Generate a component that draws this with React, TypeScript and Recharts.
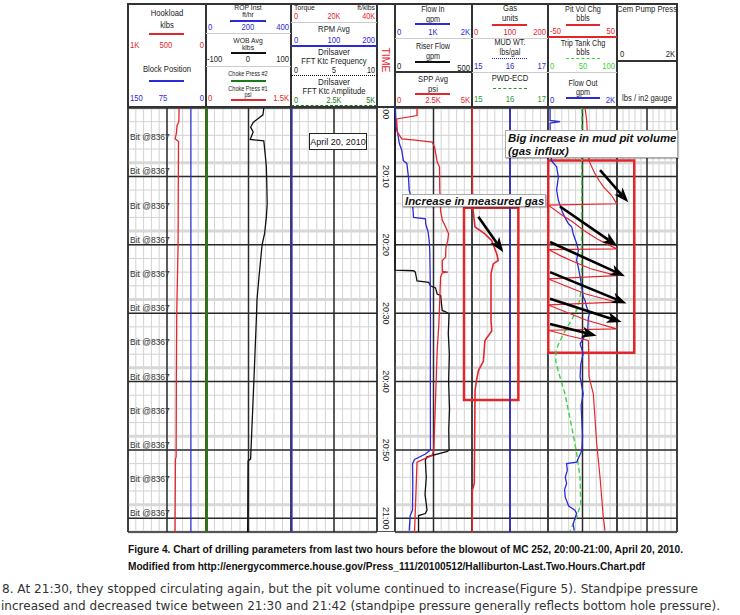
import React from 'react';
import { LineChart, Line, XAxis, YAxis, CartesianGrid, ReferenceLine, ReferenceArea } from 'recharts';

// time axis: minutes after 20:00
const minorMinutes = [2, 4, 6, 8, 10, 12, 14, 16, 18, 20, 22, 24, 26, 28, 30, 32, 34, 36, 38, 40, 42, 44, 46, 48, 50, 52, 54, 56, 58, 60];
const majorMinutes = [10, 20, 30, 40, 50, 60];
const bandMinutes = [8, 18, 28, 38, 48, 58];
const timeLabels = [0, 10, 20, 30, 40, 50, 60];
const bitMinutes = [5, 10, 15, 20, 25, 30, 35, 40, 45, 50, 55, 60];
const divisions = [1, 2, 3, 4, 5, 6, 7, 8, 9];
const midDivision = [5];

// track 1
const hookload = [
  { t: 0, v: 345 }, { t: 2, v: 348 }, { t: 2.6, v: 372 }, { t: 3.6, v: 378 }, { t: 4.5, v: 395 },
  { t: 4.9, v: 352 }, { t: 10, v: 355 }, { t: 20, v: 358 }, { t: 30, v: 375 }, { t: 40, v: 380 },
  { t: 51, v: 383 }, { t: 51.4, v: 392 }, { t: 62, v: 397 },
];
const blockPos = [{ t: 0, v: 29 }, { t: 62, v: 29 }];

// track 2
const chokePress = [{ t: 0, v: 10 }, { t: 62, v: 10 }];
const wob = [
  { t: 0, v: 36 }, { t: 1, v: 34 }, { t: 2.1, v: 11 }, { t: 2.8, v: 5 }, { t: 3.5, v: 11 }, { t: 4.6, v: 4 },
  { t: 4.8, v: 36 }, { t: 6.6, v: 39 }, { t: 8.6, v: 42 }, { t: 11, v: 43 }, { t: 14, v: 44 }, { t: 16, v: 42 },
  { t: 18.3, v: 38 }, { t: 20, v: 32 }, { t: 24.5, v: 25 }, { t: 28, v: 20 }, { t: 30, v: 19 }, { t: 39.4, v: 13 },
  { t: 51.3, v: 5 }, { t: 51.6, v: -1 }, { t: 62, v: -2 },
];

// track 3
const rpm = [{ t: 0, v: 2 }, { t: 62, v: 2 }];

// track 4
const flowIn = [
  { t: 0, v: 10 }, { t: 2.8, v: 30 }, { t: 3.7, v: 70 }, { t: 5.2, v: 113 }, { t: 6.2, v: 176 }, { t: 7.7, v: 218 },
  { t: 8.1, v: 308 }, { t: 10.1, v: 350 }, { t: 12, v: 368 }, { t: 13.5, v: 440 }, { t: 15, v: 470 }, { t: 16, v: 482 },
  { t: 16.2, v: 790 }, { t: 17, v: 800 }, { t: 18.1, v: 860 }, { t: 19.5, v: 890 }, { t: 20.8, v: 903 }, { t: 25, v: 915 },
  { t: 31, v: 921 }, { t: 40, v: 918 }, { t: 50, v: 921 }, { t: 50.6, v: 790 }, { t: 51.4, v: 508 }, { t: 52, v: 455 },
  { t: 55, v: 462 }, { t: 58.8, v: 455 }, { t: 59.6, v: 395 }, { t: 61.8, v: 368 },
];
const riserFlow = [
  { t: 0, v: 0 }, { t: 23.7, v: 0 }, { t: 23.8, v: 120 }, { t: 24, v: 132 }, { t: 25.3, v: 143 }, { t: 25.5, v: 219 },
  { t: 26, v: 230 }, { t: 26.3, v: 263 }, { t: 27.2, v: 274 }, { t: 27.4, v: 296 }, { t: 29.6, v: 307 }, { t: 29.8, v: 329 },
  { t: 30.1, v: 351 }, { t: 33, v: 346 }, { t: 36, v: 353 }, { t: 40, v: 348 }, { t: 44, v: 354 }, { t: 47, v: 349 },
  { t: 50, v: 351 }, { t: 50.2, v: 340 }, { t: 51, v: 208 }, { t: 51.5, v: 197 }, { t: 54, v: 203 }, { t: 56.5, v: 195 },
  { t: 58.8, v: 208 }, { t: 59.3, v: 197 }, { t: 59.6, v: 153 }, { t: 62, v: 153 },
];
const sppAvg = [
  { t: 0, v: 1430 }, { t: 1.1, v: 1430 }, { t: 1.6, v: 110 }, { t: 3.5, v: 150 }, { t: 4.5, v: 440 }, { t: 4.7, v: 1320 },
  { t: 5, v: 2410 }, { t: 5.7, v: 2570 }, { t: 7.9, v: 2740 }, { t: 8.6, v: 2890 }, { t: 12, v: 2910 }, { t: 15, v: 2960 },
  { t: 16.4, v: 3070 }, { t: 17.4, v: 3290 }, { t: 18.4, v: 3480 }, { t: 19.4, v: 3420 }, { t: 20.5, v: 3300 },
  { t: 21.8, v: 3290 }, { t: 22.3, v: 3070 }, { t: 23.9, v: 3080 }, { t: 24, v: 3430 }, { t: 24.1, v: 3080 },
  { t: 24.7, v: 2960 }, { t: 27.7, v: 2910 }, { t: 31.5, v: 2850 }, { t: 35.4, v: 2740 }, { t: 50, v: 2520 },
  { t: 50.8, v: 2400 }, { t: 51.8, v: 1430 }, { t: 58.8, v: 1320 }, { t: 62, v: 1270 },
];

// track 5
const gasUnits = [
  { t: 0, v: 0.5 }, { t: 12, v: 1 }, { t: 15, v: 3 }, { t: 17.4, v: 8 }, { t: 18.4, v: 34 }, { t: 19.4, v: 52 },
  { t: 21.3, v: 65 }, { t: 22.3, v: 69 }, { t: 22.8, v: 56 }, { t: 24.2, v: 50 }, { t: 31, v: 50 }, { t: 32.6, v: 52 },
  { t: 34, v: 34 }, { t: 37, v: 30 }, { t: 38.4, v: 17 }, { t: 39.8, v: 12 }, { t: 41.3, v: 8 }, { t: 54.9, v: 6 },
  { t: 55.9, v: 1 }, { t: 62, v: 0.5 },
];
const mudWeight = [{ t: 0, v: 16 }, { t: 62, v: 16 }];

// track 6
const pitVol = [
  { t: 0, v: 3.6 }, { t: 1.8, v: 6.1 }, { t: 5, v: 7.5 }, { t: 7.7, v: 9.4 }, { t: 8.6, v: 13.3 }, { t: 9.6, v: 18.1 },
  { t: 10.6, v: 24 }, { t: 11.5, v: 30.1 }, { t: 12.8, v: 42.3 }, { t: 14, v: 49.6 }, { t: 14.1, v: null },
  { t: 14.2, v: -49.5 }, { t: 15.5, v: -32 }, { t: 16.6, v: -15 }, { t: 17.9, v: 2 }, { t: 19.2, v: 22 }, { t: 20.6, v: 49.5 }, { t: 20.65, v: null },
  { t: 20.7, v: -49.5 }, { t: 21.7, v: -30 }, { t: 22.6, v: -10 }, { t: 23.5, v: 12 }, { t: 24.5, v: 49.5 }, { t: 24.7, v: null },
  { t: 25, v: -49.5 }, { t: 26, v: -25 }, { t: 27.2, v: 5 }, { t: 28.4, v: 49.5 }, { t: 28.6, v: null },
  { t: 28.8, v: -49.5 }, { t: 29.8, v: -25 }, { t: 31, v: 5 }, { t: 32.3, v: 49.5 }, { t: 32.4, v: null },
  { t: 32.5, v: -49.5 }, { t: 33.3, v: -20 }, { t: 34, v: 8.4 }, { t: 36, v: 9 }, { t: 39.3, v: 9.4 }, { t: 41.8, v: 15.7 },
  { t: 49.1, v: 20.6 }, { t: 54, v: 25.4 }, { t: 59.8, v: 30.1 }, { t: 61.8, v: 32.6 },
];
const tripTank = [
  { t: 0, v: 49 }, { t: 26, v: 48.5 }, { t: 28, v: 46 }, { t: 29.2, v: 43 }, { t: 30.1, v: 39 }, { t: 31.2, v: 33 },
  { t: 32.6, v: 24.6 }, { t: 34.6, v: 14.9 }, { t: 35.6, v: 11.6 }, { t: 37, v: 11.2 }, { t: 38.5, v: 14.9 },
  { t: 41.8, v: 24.6 }, { t: 46.6, v: 34.3 }, { t: 50.5, v: 41.6 }, { t: 54, v: 46.4 }, { t: 57.9, v: 47.5 },
  { t: 59.8, v: 41.6 }, { t: 61.8, v: 31.9 },
];
const flowOut = [
  { t: 0, v: 60 }, { t: 1.8, v: 60 }, { t: 2, v: 350 }, { t: 2.2, v: 60 }, { t: 6, v: 70 }, { t: 7.7, v: 100 },
  { t: 8.6, v: 250 }, { t: 10.1, v: 300 }, { t: 12, v: 250 }, { t: 13.5, v: 300 }, { t: 15, v: 400 }, { t: 16, v: 490 },
  { t: 16.9, v: 590 }, { t: 17.4, v: 690 }, { t: 18.4, v: 730 }, { t: 19.8, v: 830 }, { t: 20.8, v: 880 }, { t: 22.3, v: 830 },
  { t: 23.3, v: 880 }, { t: 24.7, v: 930 }, { t: 26.2, v: 980 }, { t: 27.6, v: 1020 }, { t: 28.1, v: 1070 },
  { t: 29.1, v: 1120 }, { t: 30.1, v: 1200 }, { t: 30.6, v: 1170 }, { t: 32.6, v: 1150 }, { t: 34.5, v: 930 },
  { t: 35.9, v: 1020 }, { t: 37.5, v: 950 }, { t: 39.3, v: 930 }, { t: 41.8, v: 1020 }, { t: 43.5, v: 960 },
  { t: 45.7, v: 980 }, { t: 48, v: 1000 }, { t: 50.1, v: 980 }, { t: 51.8, v: 830 }, { t: 52, v: 540 }, { t: 53, v: 560 },
  { t: 54, v: 500 }, { t: 54.9, v: 540 }, { t: 55.8, v: 480 }, { t: 56.9, v: 500 }, { t: 58.2, v: 600 }, { t: 58.8, v: 780 },
  { t: 59.3, v: 830 }, { t: 60.8, v: 730 }, { t: 61.8, v: 760 },
];

// annotations, in the units of the track they sit in
const pitArrows = [
  { t1: 9.1, v1: 25.4, t2: 13.8, v2: 66.4 },
  { t1: 14.4, v1: -32.6, t2: 20.2, v2: 50.7 },
  { t1: 19.6, v1: -47, t2: 24.6, v2: 61.6 },
  { t1: 24, v1: -47, t2: 28.6, v2: 63.8 },
  { t1: 27.9, v1: -47, t2: 31.3, v2: 56.8 },
  { t1: 31.6, v1: -47, t2: 33.3, v2: 20.6 },
];
const gasArrow = { t1: 15.9, v1: 16.6, t2: 21.1, v2: 82.4 };
const gasBox = { v1: -21, v2: 122, t1: 14.6, t2: 42.7 };
const pitBox = { v1: -49.6, v2: 75, t1: 7.66, t2: 35.8 };

const RED = '#e3262c';
const BLUE = '#2a2ad8';
const GREEN = '#187a18';
const LGREEN = '#3ad43a';
const PGREEN = '#2a9a2a';
const F = '"Liberation Sans", Arial, sans-serif';
const PLOT_TOP = 108;
const PLOT_H = 424;

const fmtTime = (m: number) => (m >= 60 ? `21:${String(m - 60).padStart(2, '0')}` : `20:${String(m).padStart(2, '0')}`);

// time label drawn in the TIME column, just right of track 3
const TimeLabel = ({ viewBox, m }: any) => {
  const cx = viewBox.x + viewBox.width + 9;
  const cy = viewBox.y;
  return (
    <text x={cx} y={cy} transform={`rotate(90 ${cx} ${cy})`} textAnchor="middle" dominantBaseline="central"
      fontSize={9} fontFamily={F} fill="#222">{fmtTime(m)}</text>
  );
};

const BitLabel = ({ viewBox }: any) => (
  <text x={viewBox.x + 2} y={viewBox.y - 2} fontSize={8.5} fontFamily={F} fill="#333">Bit @8367</text>
);

const ArrowShape = (p: any) => {
  const { x1, y1, x2, y2 } = p;
  const ang = Math.atan2(y2 - y1, x2 - x1);
  const L = 15;
  const W = 5.5;
  const bx = x2 - L * Math.cos(ang);
  const by = y2 - L * Math.sin(ang);
  const nx = -Math.sin(ang) * W;
  const ny = Math.cos(ang) * W;
  const mx = x2 - (L - 4) * Math.cos(ang);
  const my = y2 - (L - 4) * Math.sin(ang);
  return (
    <g>
      <line x1={x1} y1={y1} x2={mx} y2={my} stroke="#000" strokeWidth={2.6} />
      <polygon points={`${x2},${y2} ${bx + nx},${by + ny} ${mx},${my} ${bx - nx},${by - ny}`} fill="#000" />
    </g>
  );
};

const gridParts = () => [
  <XAxis key="gx" xAxisId="g" type="number" domain={[0, 10]} ticks={divisions} interval={0} hide allowDataOverflow />,
  <XAxis key="gxm" xAxisId="gm" type="number" domain={[0, 10]} ticks={midDivision} interval={0} hide allowDataOverflow />,
  <YAxis key="ty" yAxisId="t" type="number" dataKey="t" domain={[0, 62]} ticks={minorMinutes} interval={0} hide allowDataOverflow />,
  <YAxis key="tym" yAxisId="tm" type="number" dataKey="t" domain={[0, 62]} ticks={majorMinutes} interval={0} hide allowDataOverflow />,
  <YAxis key="tyb" yAxisId="tb" type="number" dataKey="t" domain={[0, 62]} ticks={bandMinutes} interval={0} hide allowDataOverflow />,
  <CartesianGrid key="g1" xAxisId="g" yAxisId="t" stroke="#d3d3d3" strokeWidth={1} />,
  <CartesianGrid key="g2" xAxisId="g" yAxisId="tb" vertical={false} stroke="#d8d8d8" strokeWidth={3} />,
  <CartesianGrid key="g3" xAxisId="gm" yAxisId="tm" stroke="#2b2b2b" strokeWidth={1.5} />,
];

function TrackChart({ left, width, children }: any) {
  return (
    <div style={{ position: 'absolute', left, top: PLOT_TOP, width, height: PLOT_H }}>
      <LineChart layout="vertical" width={width} height={PLOT_H} margin={{ top: 0, right: 0, bottom: 0, left: 0 }}>
        {gridParts()}
        {children}
      </LineChart>
    </div>
  );
}

const line = (key: string, data: any[], axis: string, color: string, w = 1.3, dash?: string) => (
  <Line key={key} data={data} dataKey="v" xAxisId={axis} yAxisId="t" type="linear" stroke={color} strokeWidth={w}
    strokeDasharray={dash} dot={false} activeDot={false} isAnimationActive={false} />
);

function Tx({ x, y, c = '#222', s = 9, a = 'm', children }: any) {
  const tx = a === 'm' ? '-50%' : a === 'e' ? '-100%' : '0';
  const origin = a === 'm' ? 'center' : a === 'e' ? 'right' : 'left';
  return (
    <div style={{ position: 'absolute', left: x, top: y, transform: `translate(${tx},-50%) scaleX(0.85)`, transformOrigin: `${origin} center`,
      color: c, fontSize: s, lineHeight: 1, whiteSpace: 'nowrap', fontFamily: F }}>{children}</div>
  );
}
function HL({ x1, x2, y, c = '#222', w = 1, st }: any) {
  if (st) {
    return <div style={{ position: 'absolute', left: x1, top: y - w / 2, width: x2 - x1, height: 0, borderTop: `${w}px ${st} ${c}` }} />;
  }
  return <div style={{ position: 'absolute', left: x1, top: y - w / 2, width: x2 - x1, height: w, background: c }} />;
}
function VL({ x, y1, y2, c = '#333', w = 1.6 }: any) {
  return <div style={{ position: 'absolute', left: x - w / 2, top: y1, width: w, height: y2 - y1, background: c }} />;
}

const trackEdges = [128, 206, 291, 377, 395, 472, 548, 617, 677];

function Header() {
  return (
    <div style={{ position: 'absolute', left: 0, top: 0, width: 740, height: 108 }}>
      <div style={{ position: 'absolute', left: 128, top: 4, width: 549, height: 103, background: '#fff' }} />
      <HL x1={127} x2={678} y={4} w={1.6} c="#333" />
      <HL x1={127} x2={678} y={107} w={2} c="#333" />
      {trackEdges.map((x) => <VL key={x} x={x} y1={4} y2={108} />)}

      <Tx x={167} y={13}>Hookload</Tx>
      <Tx x={167} y={25}>klbs</Tx>
      <HL x1={149} x2={184} y={34} c={RED} w={1.5} />
      <Tx x={130} y={45} a="s" c={RED}>1K</Tx><Tx x={166} y={45} c={RED}>500</Tx><Tx x={204} y={45} a="e" c={RED}>0</Tx>
      <Tx x={167} y={69}>Block Position</Tx>
      <HL x1={149} x2={184} y={81} c={BLUE} w={1.5} />
      <Tx x={130} y={98} a="s" c={BLUE}>150</Tx><Tx x={163} y={98} c={BLUE}>75</Tx><Tx x={204} y={98} a="e" c={BLUE}>0</Tx>

      <Tx x={248} y={7.5} s={8}>ROP Inst</Tx><Tx x={248} y={15} s={8}>ft/hr</Tx>
      <HL x1={230} x2={266} y={21} c={BLUE} w={1.3} />
      <Tx x={208} y={27} a="s" c={BLUE}>0</Tx><Tx x={248} y={27} c={BLUE}>200</Tx><Tx x={289} y={27} a="e" c={BLUE}>400</Tx>
      <HL x1={206} x2={291} y={33} c="#ccc" />
      <Tx x={248} y={40.5} s={8}>WOB Avg</Tx><Tx x={248} y={48} s={8}>klbs</Tx>
      <HL x1={231} x2={266} y={53} c="#111" w={1.3} />
      <Tx x={207} y={59} a="s">-100</Tx><Tx x={248} y={59}>0</Tx><Tx x={289} y={59} a="e">100</Tx>
      <HL x1={206} x2={291} y={66} c="#ccc" />
      <Tx x={248} y={74} s={6.5}>Choke Press #2</Tx>
      <HL x1={231} x2={266} y={81} c={GREEN} w={1.5} />
      <Tx x={248} y={88.5} s={6.5}>Choke Press #1</Tx><Tx x={248} y={95} s={6.5}>psi</Tx>
      <HL x1={231} x2={266} y={100} c={RED} w={1.5} />
      <Tx x={208} y={98} a="s" c={RED}>0</Tx><Tx x={289} y={98} a="e" c={RED}>1.5K</Tx>

      <Tx x={294} y={7.5} a="s" s={8}>Torque</Tx><Tx x={375} y={7.5} a="e" s={8}>ft/klbs</Tx>
      <Tx x={294} y={16} a="s" c={RED} s={8.5}>0</Tx><Tx x={334} y={16} c={RED} s={8.5}>20K</Tx><Tx x={375} y={16} a="e" c={RED} s={8.5}>40K</Tx>
      <HL x1={291} x2={377} y={22} c="#ccc" />
      <Tx x={334} y={29}>RPM Avg</Tx>
      <Tx x={294} y={40} a="s" c={BLUE}>0</Tx><Tx x={334} y={40} c={BLUE}>100</Tx><Tx x={375} y={40} a="e" c={BLUE}>200</Tx>
      <HL x1={291} x2={377} y={46} c={BLUE} w={2} />
      <Tx x={334} y={51.5} s={9.5}>Drilsaver</Tx><Tx x={334} y={61} s={9}>FFT Ktc Frequency</Tx>
      <Tx x={294} y={70.2} a="s" s={8.5}>0</Tx><Tx x={334} y={70.2} s={8.5}>5</Tx><Tx x={375} y={70.2} a="e" s={8.5}>10</Tx>
      <HL x1={291} x2={377} y={76} c="#111" w={1.5} st="dotted" />
      <Tx x={334} y={82} s={9.5}>Drilsaver</Tx><Tx x={334} y={91.3} s={9}>FFT Ktc Amplitude</Tx>
      <Tx x={294} y={100.3} a="s" c={GREEN} s={8.5}>0</Tx><Tx x={334} y={100.3} c={GREEN} s={8.5}>2.5K</Tx><Tx x={375} y={100.3} a="e" c={GREEN} s={8.5}>5K</Tx>
      <HL x1={291} x2={377} y={106} c={GREEN} w={1.5} st="dashed" />

      <div style={{ position: 'absolute', left: 386, top: 60, transform: 'translate(-50%,-50%) rotate(90deg)', color: RED,
        fontSize: 10.5, fontFamily: F, lineHeight: 1 }}>TIME</div>

      <Tx x={433} y={9} s={8.5}>Flow In</Tx><Tx x={433} y={18.5} s={8.5}>gpm</Tx>
      <HL x1={415} x2={450} y={24} c={BLUE} w={1.5} />
      <Tx x={397} y={32} a="s" c={BLUE}>0</Tx><Tx x={433} y={32} c={BLUE}>1K</Tx><Tx x={470} y={32} a="e" c={BLUE}>2K</Tx>
      <HL x1={395} x2={472} y={38} c="#ccc" />
      <Tx x={433} y={46} s={8.5}>Riser Flow</Tx><Tx x={433} y={55.5} s={8.5}>gpm</Tx>
      <HL x1={415} x2={450} y={62} c="#111" w={1.3} />
      <Tx x={397} y={66} a="s">0</Tx><Tx x={470} y={68} a="e">500</Tx>
      <HL x1={395} x2={472} y={72} c="#333" w={2} />
      <Tx x={433} y={79}>SPP Avg</Tx><Tx x={433} y={89}>psi</Tx>
      <HL x1={415} x2={450} y={94} c={RED} w={1.5} />
      <Tx x={397} y={100} a="s" c={RED}>0</Tx><Tx x={433} y={100} c={RED}>2.5K</Tx><Tx x={470} y={100} a="e" c={RED}>5K</Tx>

      <Tx x={510} y={8}>Gas</Tx><Tx x={510} y={18}>units</Tx>
      <HL x1={492} x2={527} y={25} c={RED} w={1.5} />
      <Tx x={474} y={32} a="s" c={RED}>0</Tx><Tx x={510} y={32} c={RED}>100</Tx><Tx x={546} y={32} a="e" c={RED}>200</Tx>
      <HL x1={472} x2={548} y={38} c="#ccc" />
      <Tx x={510} y={42} s={8.5}>MUD WT.</Tx><Tx x={510} y={51.5} s={8.5}>lbs/gal</Tx>
      <HL x1={492} x2={527} y={59} c={BLUE} w={1.5} st="dotted" />
      <Tx x={474} y={66} a="s" c={BLUE}>15</Tx><Tx x={510} y={66} c={BLUE}>16</Tx><Tx x={546} y={66} a="e" c={BLUE}>17</Tx>
      <HL x1={472} x2={548} y={72} c="#ccc" />
      <Tx x={510} y={78}>PWD-ECD</Tx>
      <HL x1={493} x2={527} y={89} c={PGREEN} w={1.5} st="dashed" />
      <Tx x={474} y={99} a="s" c={PGREEN}>15</Tx><Tx x={510} y={99} c={PGREEN}>16</Tx><Tx x={546} y={99} a="e" c={PGREEN}>17</Tx>

      <Tx x={583} y={8.5} s={8.5}>Pit Vol Chg</Tx><Tx x={583} y={18} s={8.5}>bbls</Tx>
      <HL x1={566} x2={600} y={25} c={RED} w={1.5} />
      <Tx x={550} y={31} a="s" c={RED}>-50</Tx><Tx x={615} y={31} a="e" c={RED}>50</Tx>
      <HL x1={548} x2={617} y={37} c={RED} w={2} />
      <Tx x={583} y={43} s={8.5}>Trip Tank Chg</Tx><Tx x={583} y={52} s={8.5}>bbls</Tx>
      <HL x1={566} x2={600} y={59} c={LGREEN} w={1.5} st="dashed" />
      <Tx x={550} y={66} a="s" c={LGREEN}>0</Tx><Tx x={583} y={66} c={LGREEN}>50</Tx><Tx x={615} y={66} a="e" c={LGREEN}>100</Tx>
      <HL x1={548} x2={617} y={72} c="#ccc" />
      <Tx x={583} y={82.5} s={8.5}>Flow Out</Tx><Tx x={583} y={92} s={8.5}>gpm</Tx>
      <HL x1={566} x2={600} y={98} c={BLUE} w={1.5} />
      <Tx x={550} y={100} a="s" c={BLUE}>0</Tx><Tx x={615} y={100} a="e" c={BLUE}>2K</Tx>

      <Tx x={647} y={9}>Cem Pump Press</Tx>
      <Tx x={620} y={54} a="s">0</Tx><Tx x={675} y={54} a="e">2K</Tx>
      <HL x1={617} x2={677} y={61} c="#333" w={1.5} />
      <Tx x={647} y={98}>lbs / in2 gauge</Tx>
    </div>
  );
}

const noteStyle: React.CSSProperties = {
  position: 'absolute', background: '#fff', border: '1px solid #aaa', boxShadow: '1px 1px 1px rgba(0,0,0,0.25)',
  fontFamily: F, fontWeight: 700, fontStyle: 'italic', fontSize: 11.4, color: '#111', lineHeight: '13px', boxSizing: 'border-box',
  whiteSpace: 'nowrap',
};

export default function App() {
  return (
    <div style={{ position: 'absolute', left: 0, top: 0, width: 740, height: 615, background: '#fff', overflow: 'hidden' }}>
      <style>{'.recharts-surface{overflow:visible}'}</style>

      {trackEdges.map((x) => <VL key={x} x={x} y1={PLOT_TOP} y2={532} />)}
      <HL x1={127} x2={678} y={531.7} w={1.6} c="#555" />

      <TrackChart left={128} width={78}>
        <XAxis xAxisId="hook" type="number" domain={[0, 1000]} reversed hide />
        <XAxis xAxisId="block" type="number" domain={[0, 150]} reversed hide />
        {bitMinutes.map((m) => (
          <ReferenceLine key={`b${m}`} xAxisId="g" yAxisId="t" y={m} stroke="transparent" label={<BitLabel />} />
        ))}
        {line('hook', hookload, 'hook', RED, 1.3)}
        {line('block', blockPos, 'block', BLUE, 1.2)}
      </TrackChart>

      <TrackChart left={206} width={85}>
        <XAxis xAxisId="choke" type="number" domain={[0, 1500]} hide />
        <XAxis xAxisId="wob" type="number" domain={[-100, 100]} hide />
        {line('choke1', chokePress, 'choke', RED, 2.5)}
        {line('choke2', chokePress, 'choke', GREEN, 2.5)}
        {line('wob', wob, 'wob', '#111', 1.3)}
      </TrackChart>

      <TrackChart left={291} width={86}>
        <XAxis xAxisId="rpm" type="number" domain={[0, 200]} hide />
        {timeLabels.map((m) => (
          <ReferenceLine key={`tl${m}`} xAxisId="g" yAxisId="t" y={m} stroke="transparent" label={<TimeLabel m={m} />} />
        ))}
        {line('rpm', rpm, 'rpm', BLUE, 1.5)}
      </TrackChart>

      <TrackChart left={395} width={77}>
        <XAxis xAxisId="flowIn" type="number" domain={[0, 2000]} hide />
        <XAxis xAxisId="riser" type="number" domain={[0, 500]} hide />
        <XAxis xAxisId="spp" type="number" domain={[0, 5000]} hide />
        {line('riser', riserFlow, 'riser', '#111', 1.3)}
        {line('flowIn', flowIn, 'flowIn', BLUE, 1.3)}
        {line('spp', sppAvg, 'spp', RED, 1.3)}
      </TrackChart>

      <TrackChart left={472} width={76}>
        <XAxis xAxisId="gas" type="number" domain={[0, 200]} hide />
        <XAxis xAxisId="mud" type="number" domain={[15, 17]} hide />
        {line('mud', mudWeight, 'mud', BLUE, 1.4)}
        {line('gas', gasUnits, 'gas', RED, 1.6)}
        <ReferenceArea xAxisId="gas" yAxisId="t" x1={gasBox.v1} x2={gasBox.v2} y1={gasBox.t1} y2={gasBox.t2}
          fill="none" fillOpacity={0} stroke={RED} strokeWidth={2.5} ifOverflow="visible" />
        <ReferenceLine xAxisId="gas" yAxisId="t" ifOverflow="visible" shape={ArrowShape}
          segment={[{ x: gasArrow.v1, y: gasArrow.t1 }, { x: gasArrow.v2, y: gasArrow.t2 }]} />
      </TrackChart>

      <TrackChart left={617} width={60}>
        <XAxis xAxisId="cem" type="number" domain={[0, 2000]} hide allowDataOverflow />
      </TrackChart>

      <TrackChart left={548} width={69}>
        <XAxis xAxisId="pit" type="number" domain={[-50, 50]} hide />
        <XAxis xAxisId="trip" type="number" domain={[0, 100]} hide />
        <XAxis xAxisId="flowOut" type="number" domain={[0, 2000]} hide />
        {line('trip', tripTank, 'trip', LGREEN, 1.4, '5 3')}
        {line('flowOut', flowOut, 'flowOut', BLUE, 1.3)}
        {line('pit', pitVol, 'pit', RED, 1.2)}
        <ReferenceArea xAxisId="pit" yAxisId="t" x1={pitBox.v1} x2={pitBox.v2} y1={pitBox.t1} y2={pitBox.t2}
          fill="none" fillOpacity={0} stroke={RED} strokeWidth={2.5} ifOverflow="visible" />
        {pitArrows.map((a, i) => (
          <ReferenceLine key={`a${i}`} xAxisId="pit" yAxisId="t" ifOverflow="visible" shape={ArrowShape}
            segment={[{ x: a.v1, y: a.t1 }, { x: a.v2, y: a.t2 }]} />
        ))}
      </TrackChart>

      <Header />

      <div style={{ position: 'absolute', left: 309, top: 133, width: 58, height: 17, border: '1px solid #222', background: '#fff',
        boxSizing: 'border-box', fontFamily: F, fontSize: 9, display: 'flex', alignItems: 'center', justifyContent: 'center', color: '#111' }}>
        April 20, 2010
      </div>
      <div style={{ ...noteStyle, left: 402, top: 194, width: 144, height: 13, paddingLeft: 2 }}>Increase in measured gas</div>
      <div style={{ ...noteStyle, left: 505, top: 130, width: 173, height: 28, padding: '1px 0 0 2px' }}>
        Big increase in mud pit volume<br />(gas influx)
      </div>

      <svg width={740} height={85} style={{ position: 'absolute', left: 0, top: 530 }}>
        <text x={128} y={23} fontFamily={F} fontWeight={700} fontSize={10.5} fill="#111" textLength={555} lengthAdjust="spacingAndGlyphs">
          Figure 4.  Chart of drilling parameters from last two hours before the blowout of MC 252, 20:00-21:00, April 20, 2010.
        </text>
        <text x={128} y={40} fontFamily={F} fontWeight={700} fontSize={10.5} fill="#111" textLength={517} lengthAdjust="spacingAndGlyphs">
          Modified from http://energycommerce.house.gov/Press_111/20100512/Halliburton-Last.Two.Hours.Chart.pdf
        </text>
        <text x={2} y={63} fontFamily='"DejaVu Sans", Verdana, sans-serif' fontSize={12} fill="#333" textLength={696} lengthAdjust="spacingAndGlyphs">
          8. At 21:30, they stopped circulating again, but the pit volume continued to increase(Figure 5). Standpipe pressure
        </text>
        <text x={1} y={80} fontFamily='"DejaVu Sans", Verdana, sans-serif' fontSize={12} fill="#333" textLength={719} lengthAdjust="spacingAndGlyphs">
          increased and decreased twice between 21:30 and 21:42 (standpipe pressure generally reflects bottom hole pressure).
        </text>
      </svg>
    </div>
  );
}
